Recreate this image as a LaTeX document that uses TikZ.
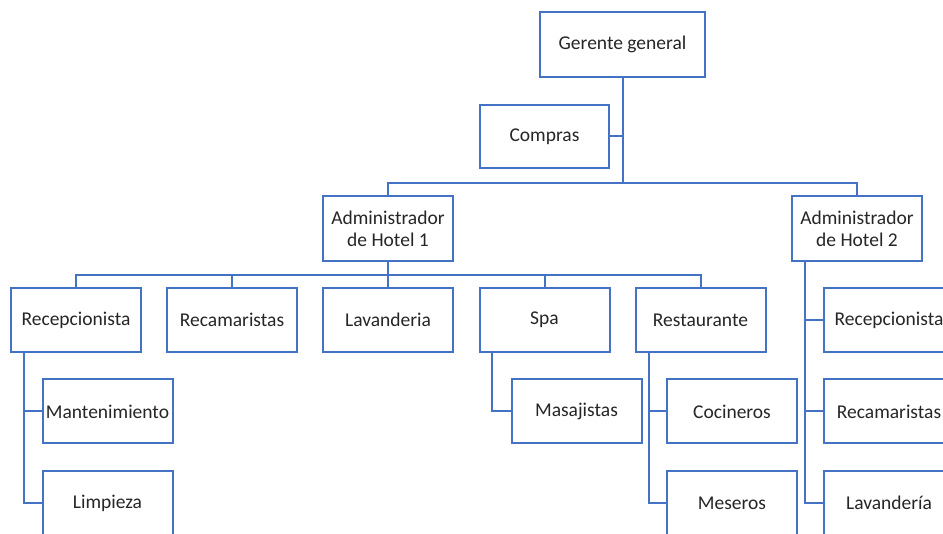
\documentclass[tikz,border=0pt]{standalone}
\usepackage{fontspec}
\setmainfont{Carlito}
\definecolor{orgblue}{RGB}{68,114,196}
\begin{document}
\begin{tikzpicture}[x=1pt,y=-1pt,
  unit/.style={draw=orgblue,line width=2pt,fill=white,minimum width=130pt,minimum height=64pt,
    inner sep=0pt,align=center,font=\fontsize{19.5}{22}\selectfont,text=black!85},
  link/.style={draw=orgblue,line width=2pt}]
\useasboundingbox (0,0) rectangle (943,534);
\clip (0,0) rectangle (943,534);
% bar heights
\coordinate (bar1) at (0,183);
\coordinate (bar2) at (0,275);
% top level
\node[unit,minimum width=165pt,minimum height=65pt] (gg) at (622.5,44.5) {Gerente general};
\node[unit,minimum width=129pt,minimum height=63pt] (compras) at (544.5,136.5) {Compras};
\node[unit,minimum height=65pt] (a1) at (388,228.5) {Administrador\\de Hotel 1};
\node[unit,minimum height=65pt] (a2) at (857,228.5) {Administrador\\de Hotel 2};
% hotel 1 departments
\node[unit] (rec1) at (76,320) {Recepcionista};
\node[unit] (rcm1) at (232,320) {Recamaristas};
\node[unit] (lav1) at (388,320) {Lavanderia};
\node[unit] (spa) at (544.5,320) {Spa};
\node[unit] (rest) at (700.5,320) {Restaurante};
\node[unit] (mant) at (107.5,411.5) {Mantenimiento};
\node[unit] (limp) at (107.5,503) {Limpieza};
\node[unit] (mas) at (576.5,411.5) {Masajistas};
\node[unit] (coc) at (732,411.5) {Cocineros};
\node[unit] (mes) at (732,503) {Meseros};
% hotel 2 departments
\node[unit] (rec2) at (889,320) {Recepcionista};
\node[unit] (rcm2) at (889,411.5) {Recamaristas};
\node[unit] (lav2) at (889,503) {Lavandería};
% connectors: general manager
\draw[link] (gg.south) -- (gg.south |- bar1);
\draw[link] (compras.east) -- (gg.south |- compras.east);
\draw[link] (a1.north) -- (a1.north |- bar1) -- (a2.north |- bar1) -- (a2.north);
% connectors: hotel 1
\draw[link] (a1.south) -- (a1.south |- bar2);
\draw[link] (rec1.north) -- (rec1.north |- bar2) -- (rest.north |- bar2) -- (rest.north);
\foreach \n in {rcm1,lav1,spa} \draw[link] (\n.north) -- (\n.north |- bar2);
% vertical feeders
\draw[link] ([xshift=-52pt]rec1.south) |- (limp.west);
\draw[link] ([xshift=-52pt]rec1.south) |- (mant.west);
\draw[link] ([xshift=-52.5pt]spa.south) |- (mas.west);
\draw[link] ([xshift=-51.5pt]rest.south) |- (mes.west);
\draw[link] ([xshift=-51.5pt]rest.south) |- (coc.west);
\draw[link] ([xshift=-52pt]a2.south) |- (lav2.west);
\draw[link] ([xshift=-52pt]a2.south) |- (rcm2.west);
\draw[link] ([xshift=-52pt]a2.south) |- (rec2.west);
\end{tikzpicture}
\end{document}
